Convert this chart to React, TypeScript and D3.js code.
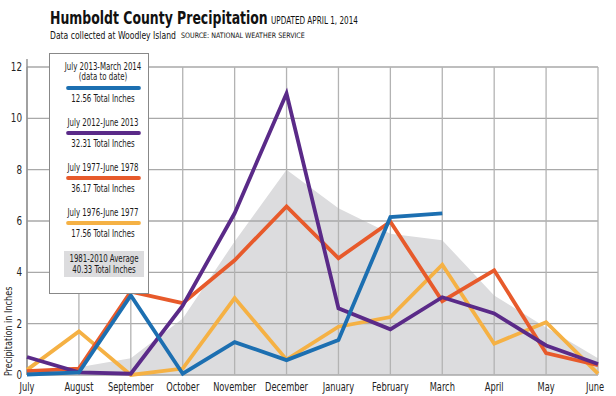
import React, { useLayoutEffect, useRef, useState } from "react";
import * as d3 from "d3";

const months = ["July", "August", "September", "October", "November", "December", "January", "February", "March", "April", "May", "June"];
const yTicks = [0, 2, 4, 6, 8, 10, 12];

// monthly precipitation, inches
const avg1981 = [0.15, 0.3, 0.65, 2.2, 5.2, 8.0, 6.5, 5.5, 5.25, 3.1, 1.85, 0.65];
const season1976 = [0.2, 1.7, 0.0, 0.25, 3.0, 0.6, 1.88, 2.26, 4.3, 1.22, 2.06, 0.05];
const season1977 = [0.15, 0.25, 3.25, 2.8, 4.47, 6.57, 4.55, 5.97, 2.88, 4.08, 0.85, 0.38];
const season2012 = [0.7, 0.1, 0.05, 2.7, 6.3, 10.97, 2.6, 1.78, 3.03, 2.4, 1.15, 0.43];
const season2013 = [0.02, 0.1, 3.1, 0.05, 1.28, 0.58, 1.36, 6.15, 6.3];

const legendRows = [
  { label: ["July 2013-March 2014", "(data to date)"], total: "12.56 Total Inches", color: "#1c6fb1" },
  { label: ["July 2012-June 2013"], total: "32.31 Total Inches", color: "#5a2a88" },
  { label: ["July 1977-June 1978"], total: "36.17 Total Inches", color: "#e75a2b" },
  { label: ["July 1976-June 1977"], total: "17.56 Total Inches", color: "#f5b144" },
];

const W = 616;
const H = 396;
const margin = { top: 67, right: 18, bottom: 21, left: 27 };
const narrow = "'DejaVu Sans Condensed', 'DejaVu Sans', sans-serif";

// squeezes a text horizontally, either to a given width or by a fixed factor
function Squeeze({ x, y, width, k = 0.8, children, ...rest }: any) {
  const ref = useRef<SVGTextElement>(null);
  const [s, setS] = useState(width ? 1 : k);
  useLayoutEffect(() => {
    if (width && ref.current) {
      const w = ref.current.getComputedTextLength();
      if (w > 0) setS(width / w);
    }
  }, [width]);
  return (
    <text ref={ref} transform={`translate(${x},${y}) scale(${s},1)`} {...rest}>
      {children}
    </text>
  );
}

export default function App() {
  const x = d3.scalePoint<string>().domain(months).range([margin.left, W - margin.right]);
  const y = d3.scaleLinear().domain([0, 12]).range([H - margin.bottom, margin.top]);

  const area = d3
    .area<number>()
    .x((d, i) => x(months[i]) as number)
    .y0(y(0))
    .y1((d) => y(d));

  const line = d3
    .line<number>()
    .x((d, i) => x(months[i]) as number)
    .y((d) => y(d));

  const series = [
    { data: season1976, color: legendRows[3].color },
    { data: season1977, color: legendRows[2].color },
    { data: season2012, color: legendRows[1].color },
    { data: season2013, color: legendRows[0].color },
  ];

  const rowTop = [70, 126, 171, 216];

  return (
    <svg width={W} height={H} style={{ position: "absolute", left: 0, top: 0, background: "#fff" }}>
      {/* title */}
      <Squeeze x={50} y={24} width={218} fontFamily="'DejaVu Sans Condensed', 'DejaVu Sans', sans-serif" fontWeight="bold" fontSize={18} fill="#111">
        Humboldt County Precipitation
      </Squeeze>
      <Squeeze x={271} y={24} width={87} fontFamily={narrow} fontSize={10} fill="#111">
        UPDATED APRIL 1, 2014
      </Squeeze>
      <Squeeze x={50} y={38.5} width={126} fontFamily={narrow} fontSize={10} fill="#111">
        Data collected at Woodley Island
      </Squeeze>
      <Squeeze x={181} y={37.5} width={124} fontFamily={narrow} fontSize={7.5} fill="#111">
        SOURCE: NATIONAL WEATHER SERVICE
      </Squeeze>

      {/* average area */}
      <path d={area(avg1981) || ""} fill="#dcdcde" />

      {/* grid */}
      {yTicks.map((t) => (
        <line key={"h" + t} x1={margin.left} x2={W - margin.right} y1={y(t)} y2={y(t)} stroke="#a9a9a9" strokeWidth={1.3} />
      ))}
      {months.map((m) => (
        <line key={"v" + m} x1={x(m)} x2={x(m)} y1={margin.top} y2={H - margin.bottom} stroke="#b3b3b3" strokeWidth={1.3} />
      ))}
      <line x1={margin.left} x2={margin.left} y1={margin.top - 8} y2={H - margin.bottom} stroke="#888" strokeWidth={1.3} />

      {/* y tick labels */}
      {yTicks.map((t) => (
        <Squeeze key={"yt" + t} x={22} y={y(t) + 4} k={0.85} textAnchor="end" fontFamily={narrow} fontSize={11.5} fill="#222">
          {t}
        </Squeeze>
      ))}
      <g transform={`translate(12,${(y(0) + y(3.4)) / 2}) rotate(-90)`}>
        <Squeeze x={0} y={0} k={0.82} textAnchor="middle" fontFamily={narrow} fontSize={11} fill="#222">
          Precipitation in Inches
        </Squeeze>
      </g>

      {/* x labels */}
      {months.map((m, i) => (
        <Squeeze key={"xl" + m} x={(x(m) as number) + (i === months.length - 1 ? -3 : 0)} y={391} k={0.8} textAnchor="middle" fontFamily={narrow} fontSize={11.5} fill="#222">
          {m}
        </Squeeze>
      ))}

      {/* lines */}
      {series.map((s, i) => (
        <path key={"s" + i} d={line(s.data) || ""} fill="none" stroke={s.color} strokeWidth={3.8} strokeLinejoin="miter" />
      ))}

      {/* legend */}
      <rect x={49.5} y={53.5} width={99} height={240} fill="#fff" stroke="#888" strokeWidth={1} />
      {legendRows.map((r, i) => {
        const top = rowTop[i];
        const lineY = top + (r.label.length > 1 ? 18 : 7);
        return (
          <g key={"lg" + i} fontFamily={narrow} fontSize={10} fill="#1a1a1a" textAnchor="middle">
            {r.label.map((l, j) => (
              <Squeeze key={j} x={103} y={top + j * 10} k={0.78}>
                {l}
              </Squeeze>
            ))}
            <line x1={68} x2={139} y1={lineY} y2={lineY} stroke={r.color} strokeWidth={3.8} strokeLinecap="round" />
            <Squeeze x={103} y={lineY + 14} k={0.78}>
              {r.total}
            </Squeeze>
          </g>
        );
      })}
      <rect x={64} y={251} width={80} height={26} fill="#dcdcde" />
      <g fontFamily={narrow} fontSize={10} fill="#1a1a1a" textAnchor="middle">
        <Squeeze x={104} y={262} k={0.78}>1981-2010 Average</Squeeze>
        <Squeeze x={104} y={273} k={0.78}>40.33 Total Inches</Squeeze>
      </g>
    </svg>
  );
}
